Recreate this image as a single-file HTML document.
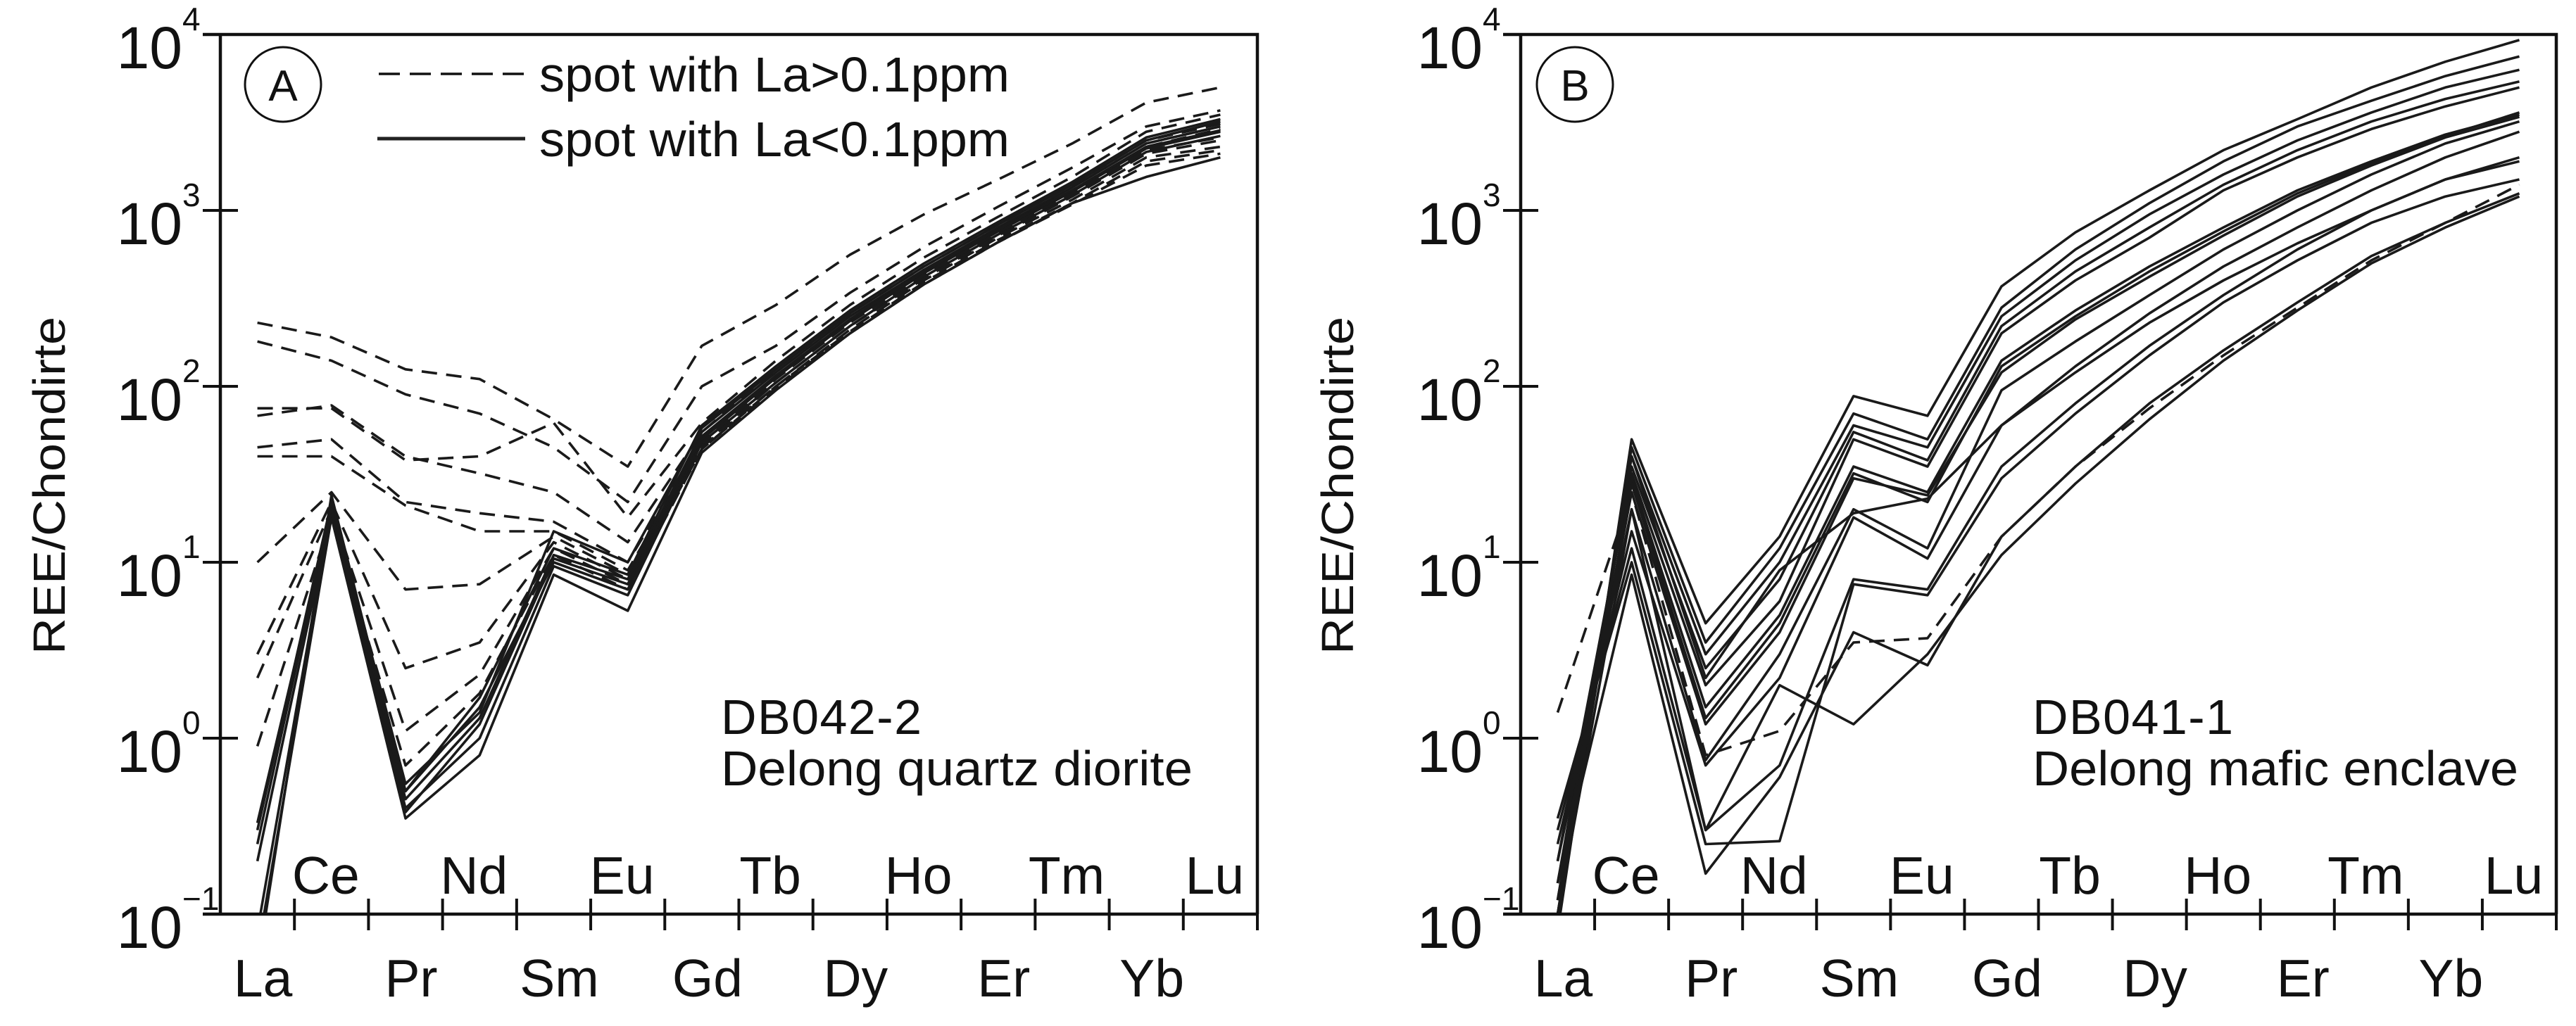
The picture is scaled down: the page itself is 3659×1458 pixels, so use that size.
<!DOCTYPE html>
<html><head><meta charset="utf-8">
<style>
html,body{margin:0;padding:0;background:#fff;}
svg{display:block;font-family:"Liberation Sans",Arial,sans-serif;}
</style></head>
<body>
<svg id="fig" width="3659" height="1458" viewBox="0 0 3659 1458" xmlns="http://www.w3.org/2000/svg">
<rect width="3659" height="1458" fill="#fff"/>
</svg>
<script>
const elements = ["La","Ce","Pr","Nd","Sm","Eu","Gd","Tb","Dy","Ho","Er","Tm","Yb","Lu"];
const yTickExps = [-1,0,1,2,3,4];

// Panel A: DB042-2, dashed = La>0.1ppm
const aDashed1 = [230,190,125,110,65,35,170,290,560,950,1500,2400,4100,5000];
const aDashed2 = [180,140,90,70,45,22,100,170,340,620,1050,1750,3000,3700];
const aDashed3 = [75,75,38,40,62,18,62,140,290,540,920,1550,2800,3500];
const aDashed4 = [68,78,40,32,25,13,55,125,260,480,830,1400,2500,3100];
const aDashed5 = [45,50,22,19,17,10,50,115,240,450,780,1300,2300,2900];
const aDashed6 = [40,40,21,15,15,9,48,110,230,430,750,1250,2200,2600];
const aDashed7 = [10,25,7,7.5,14,8.5,46,105,220,410,720,1200,2100,2500];
const aDashed8 = [3,22,2.5,3.5,13,8,45,100,210,400,700,1150,2000,2300];
const aDashed9 = [2.2,20,1.1,2.3,12,7.5,44,100,205,390,680,1100,1900,2200];
const aDashed10 = [0.9,18,0.7,1.8,11,7,44,98,200,380,660,1080,1800,2100];
const aSolid1 = [0.33,20,0.5,1.5,10,7,50,112,235,440,760,1280,2250,2800];
const aSolid2 = [0.25,21,0.45,1.3,11,8,55,120,250,460,800,1350,2400,3000];
const aSolid3 = [0.2,19,0.4,1.0,9.5,6.5,48,105,220,420,730,1220,2150,2650];
const aSolid4 = [0.06,18,0.35,0.8,8.5,5.3,42,95,200,380,660,1100,1550,2000];
const aSolid5 = [0.05,24,0.5,1.7,12,8.5,60,130,270,500,860,1450,2600,3300];
const aSolid6 = [0.3,22,0.55,1.4,15,10,58,125,260,480,830,1400,2500,3200];
const aSolid7 = [0.08,20,0.38,1.2,10.5,7.5,52,115,240,450,780,1300,2300,2850];
const aDashedSeries = [aDashed1,aDashed2,aDashed3,aDashed4,aDashed5,aDashed6,aDashed7,aDashed8,aDashed9,aDashed10];
const aSolidSeries = [aSolid1,aSolid2,aSolid3,aSolid4,aSolid5,aSolid6,aSolid7];

// Panel B: DB041-1
const bSolid1 = [0.08,50,4.5,14,88,68,370,750,1300,2200,3300,5000,7000,9300];
const bSolid2 = [0.1,45,3.5,12,70,50,280,600,1100,1900,3000,4200,5800,7500];
const bSolid3 = [0.12,40,3,10,60,45,250,520,950,1600,2500,3600,5000,6300];
const bSolid4 = [0.15,35,2.5,8,55,38,220,450,800,1400,2200,3200,4300,5400];
const bSolid5 = [0.2,32,2,6,50,35,200,400,700,1300,2000,2900,3900,5000];
const bSolid6 = [0.1,30,1.5,5,35,25,140,270,480,800,1300,1900,2700,3500];
const bSolid7 = [0.12,28,1.3,4.5,32,22,130,250,450,760,1250,1850,2650,3600];
const bSolid8 = [0.15,25,1.2,4,30,24,120,240,420,720,1200,1800,2600,3400];
const bSolid9 = [0.2,20,0.75,3,20,12,95,180,330,600,1000,1600,2400,3200];
const bSolid10 = [0.25,15,0.7,2.2,18,10.5,60,130,260,480,800,1300,2000,2800];
const bSolid11 = [0.3,12,0.3,0.7,8,7,35,80,170,330,600,1000,1500,1900];
const bSolid12 = [0.35,10,0.25,0.26,7.5,6.5,30,70,150,300,520,850,1200,1500];
const bSolid13 = [0.15,8.5,0.17,0.6,4,2.6,14,35,80,160,300,550,850,1250];
const bSolid14 = [0.1,20,0.3,2,1.2,3,11,28,65,140,270,500,800,1200];
const bSolid15 = [0.09,40,2.2,9,19,23,60,120,230,400,650,1000,1500,2000];
const bDashed1 = [1.4,25,0.8,1.1,3.5,3.7,14,35,75,150,280,520,850,1400];
const bDashedSeries = [bDashed1];
const bSolidSeries = [bSolid1,bSolid2,bSolid3,bSolid4,bSolid5,bSolid6,bSolid7,bSolid8,bSolid9,bSolid10,bSolid11,bSolid12,bSolid13,bSolid14,bSolid15];

const NS = "http://www.w3.org/2000/svg";
const svg = document.getElementById("fig");
function mk(tag, attrs, parent){
  const e = document.createElementNS(NS, tag);
  for (const k in attrs) e.setAttribute(k, attrs[k]);
  (parent||svg).appendChild(e);
  return e;
}

function panel(cfg){
  const L = cfg.left, R = cfg.right, T = 49, B = 1299;
  const step = (R - L) / 14;
  const xOf = i => L + (i + 0.5) * step;
  const yOf = v => B - (Math.log10(v) + 1) * (B - T) / 5;
  const g = mk("g", {});
  
  

  const clipId = cfg.name + "-clip";
  const cp = mk("clipPath", {id: clipId}, g);
  mk("rect", {x: L, y: T, width: R - L, height: B - T}, cp);

  const lines = mk("g", {"clip-path": "url(#" + clipId + ")"}, g);
  
  
  function draw(arr, dashed, idx){
    const d = arr.map((v, i) => (i ? "L" : "M") + xOf(i).toFixed(1) + " " + yOf(v).toFixed(1)).join(" ");
    const p = mk("path", {d: d, fill: "none", stroke: "#1a1a1a", "stroke-width": 3.6, "stroke-linejoin": "round"}, lines);
    if (dashed) p.setAttribute("stroke-dasharray", "22 13");
    
    
  }
  cfg.solid.forEach((s, i) => draw(s, false, i + 1));
  cfg.dashed.forEach((s, i) => draw(s, true, i + 1));

  const fr = mk("path", {d: `M${L-25} ${T} H${R} V${B} M${L} ${T} V${B} M${L-25} ${B} H${R}`, fill: "none", stroke: "#111", "stroke-width": 4.5}, g);
  
  

  yTickExps.forEach(e => {
    const y = yOf(Math.pow(10, e));
    const t = mk("line", {x1: L - 25, x2: L + 25, y1: y, y2: y, stroke: "#111", "stroke-width": 4}, g);
    
    
    const tx = mk("text", {x: L - 54, y: y + 48, "font-size": 84, "text-anchor": "end", fill: "#111"}, g);
    
    
    tx.textContent = "10";
    const sup = mk("text", {x: L - 54, y: y - 6, "font-size": 46, "text-anchor": "start", fill: "#111"}, g);
    
    
    sup.textContent = e < 0 ? "\u2212" + (-e) : String(e);
  });

  for (let k = 1; k <= 14; k++) {
    const x = L + k * step;
    const t = mk("line", {x1: x, x2: x, y1: B - 22, y2: B + 23, stroke: "#111", "stroke-width": 4}, g);
    
    
  }
  elements.forEach((el, i) => {
    const up = i % 2 === 1;
    const tx = mk("text", {x: xOf(i) + (up ? -8 : 8), y: up ? 1270 : 1416, "font-size": 75, "text-anchor": "middle", fill: "#111"}, g);
    
    
    tx.textContent = el;
  });

  const yt = mk("text", {x: 0, y: 0, "font-size": 64, "text-anchor": "middle", fill: "#111",
    transform: `translate(${cfg.ylabX},690) rotate(-90)`, textLength: 480, lengthAdjust: "spacingAndGlyphs"}, g);
  
  
  yt.textContent = "REE/Chondirte";

  const ce = mk("ellipse", {cx: cfg.circX, cy: 120, rx: 54, ry: 53, fill: "none", stroke: "#111", "stroke-width": 3}, g);
  
  
  const pl = mk("text", {x: cfg.circX, y: 143, "font-size": 62, "text-anchor": "middle", fill: "#111"}, g);
  
  
  pl.textContent = cfg.letter;

  const s1 = mk("text", {x: cfg.sampX, y: 1043, "font-size": 70, fill: "#111", textLength: cfg.s1len, lengthAdjust: "spacing"}, g);
  
  
  s1.textContent = cfg.sample;
  const s2 = mk("text", {x: cfg.sampX, y: 1116, "font-size": 70, fill: "#111", textLength: cfg.s2len, lengthAdjust: "spacingAndGlyphs"}, g);
  
  
  s2.textContent = cfg.desc;
  return g;
}

panel({name: "panel-a", left: 313, right: 1786, ylabX: 92, circX: 402, letter: "A",
  sampX: 1024, sample: "DB042-2", desc: "Delong quartz diorite", s1len: 285, s2len: 670,
  dashed: aDashedSeries, solid: aSolidSeries});
panel({name: "panel-b", left: 2160, right: 3631, ylabX: 1922, circX: 2237, letter: "B",
  sampX: 2887, sample: "DB041-1", desc: "Delong mafic enclave", s1len: 285, s2len: 690,
  dashed: bDashedSeries, solid: bSolidSeries});

const lg = mk("g", {});


const ld = mk("line", {x1: 538, x2: 746, y1: 105, y2: 105, stroke: "#111", "stroke-width": 3.5, "stroke-dasharray": "30 14"}, lg);


const lt1 = mk("text", {x: 766, y: 130, "font-size": 70, fill: "#111", textLength: 668, lengthAdjust: "spacingAndGlyphs"}, lg);


lt1.textContent = "spot with La>0.1ppm";
const ls = mk("line", {x1: 536, x2: 746, y1: 197, y2: 197, stroke: "#222", "stroke-width": 5}, lg);


const lt2 = mk("text", {x: 766, y: 222, "font-size": 70, fill: "#111", textLength: 668, lengthAdjust: "spacingAndGlyphs"}, lg);


lt2.textContent = "spot with La<0.1ppm";
</script>
</body></html>
